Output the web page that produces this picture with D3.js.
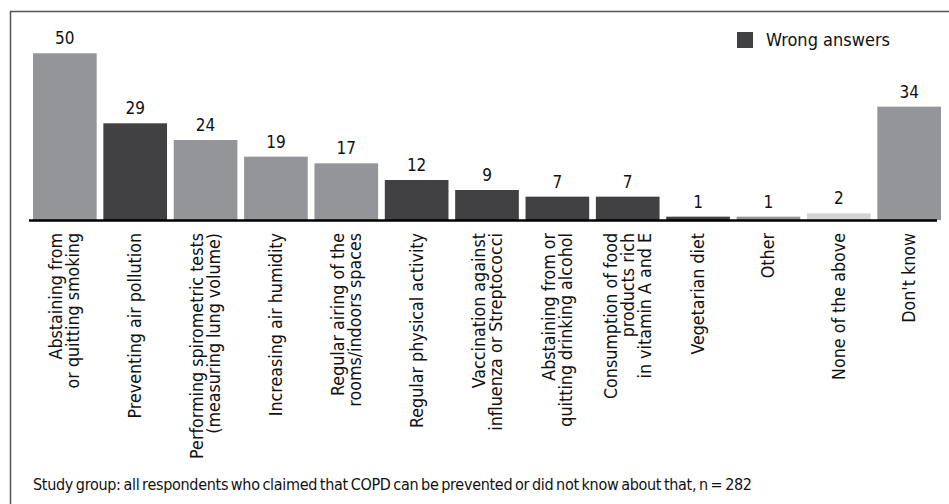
<!DOCTYPE html>
<html>
<head>
<meta charset="utf-8">
<script src="https://cdn.jsdelivr.net/npm/d3@7"></script>
<style>
  html, body { margin: 0; padding: 0; background: #fff; }
  svg text { font-family: "DejaVu Sans Condensed", "Liberation Sans Narrow", sans-serif; fill: #111; }
</style>
</head>
<body>
<svg id="chart" width="949" height="504"></svg>
<script>
const categories = [
  "Abstaining from\nor quitting smoking",
  "Preventing air pollution",
  "Performing spirometric tests\n(measuring lung volume)",
  "Increasing air humidity",
  "Regular airing of the\nrooms/indoors spaces",
  "Regular physical activity",
  "Vaccination against\ninfluenza or Streptococci",
  "Abstaining from or\nquitting drinking alcohol",
  "Consumption of food\nproducts rich\nin vitamin A and E",
  "Vegetarian diet",
  "Other",
  "None of the above",
  "Don't know"
];
const values = [50, 29, 24, 19, 17, 12, 9, 7, 7, 1, 1, 2, 34];
// answer type per bar: "correct", "wrong", "other", "none"
const answerTypes = ["correct", "wrong", "correct", "correct", "correct", "wrong", "wrong", "wrong", "wrong", "wrong", "other", "none", "other"];
const legendLabels = ["Wrong answers"];
const footnote = "Study group: all respondents who claimed that COPD can be prevented or did not know about that, n = 282";

const colors = { correct: "#939598", wrong: "#414042", other: "#939598", none: "#d1d3d4" };

const svg = d3.select("#chart");

// frame (top and left lines)
svg.append("path")
  .attr("d", "M10.5,504 L10.5,11.5 L949,11.5")
  .attr("fill", "none")
  .attr("stroke", "#555")
  .attr("stroke-width", 1.5);

const x = d3.scaleBand().domain(d3.range(categories.length)).range([33, 941]).paddingInner(0.095).paddingOuter(0);
const y = d3.scaleLinear().domain([0, 50]).range([220, 53.3]);

svg.selectAll("rect.bar").data(values).join("rect")
  .attr("class", "bar")
  .attr("x", (d, i) => x(i))
  .attr("width", x.bandwidth())
  .attr("y", d => y(d))
  .attr("height", d => y(0) - y(d))
  .attr("fill", (d, i) => colors[answerTypes[i]]);

// value labels
svg.selectAll("text.val").data(values).join("text")
  .attr("class", "val")
  .attr("x", (d, i) => x(i) + x.bandwidth() / 2)
  .attr("y", d => y(d) - 9)
  .attr("text-anchor", "middle")
  .attr("font-size", 17)
  .text(d => d);

// baseline axis
svg.append("line")
  .attr("x1", 29).attr("x2", 937)
  .attr("y1", y(0) + 0.5).attr("y2", y(0) + 0.5)
  .attr("stroke", "#000").attr("stroke-width", 2.5);

// category labels
const lh = 17;
const lab = svg.selectAll("g.cat").data(categories).join("g")
  .attr("class", "cat")
  .attr("transform", (d, i) => `translate(${x(i) + x.bandwidth() / 2},233) rotate(-90)`);
lab.append("text")
  .attr("text-anchor", "end")
  .attr("font-size", 17.7)
  .each(function(d) {
    const lines = d.split("\n");
    const t = d3.select(this);
    lines.forEach((ln, k) => {
      t.append("tspan")
        .attr("x", 0)
        .attr("y", (k - (lines.length - 1) / 2) * lh + 6)
        .text(ln);
    });
  });

// legend
const lg = svg.append("g").attr("transform", "translate(737,32)");
lg.append("rect").attr("width", 16).attr("height", 16).attr("fill", colors.wrong);
lg.append("text").attr("x", 29).attr("y", 13.5).attr("font-size", 18).text(legendLabels[0]);

// footnote
svg.append("text").attr("x", 33).attr("y", 490).attr("font-size", 16)
  .attr("letter-spacing", -0.3).attr("word-spacing", -1.5)
  .text(footnote);
</script>
</body>
</html>
